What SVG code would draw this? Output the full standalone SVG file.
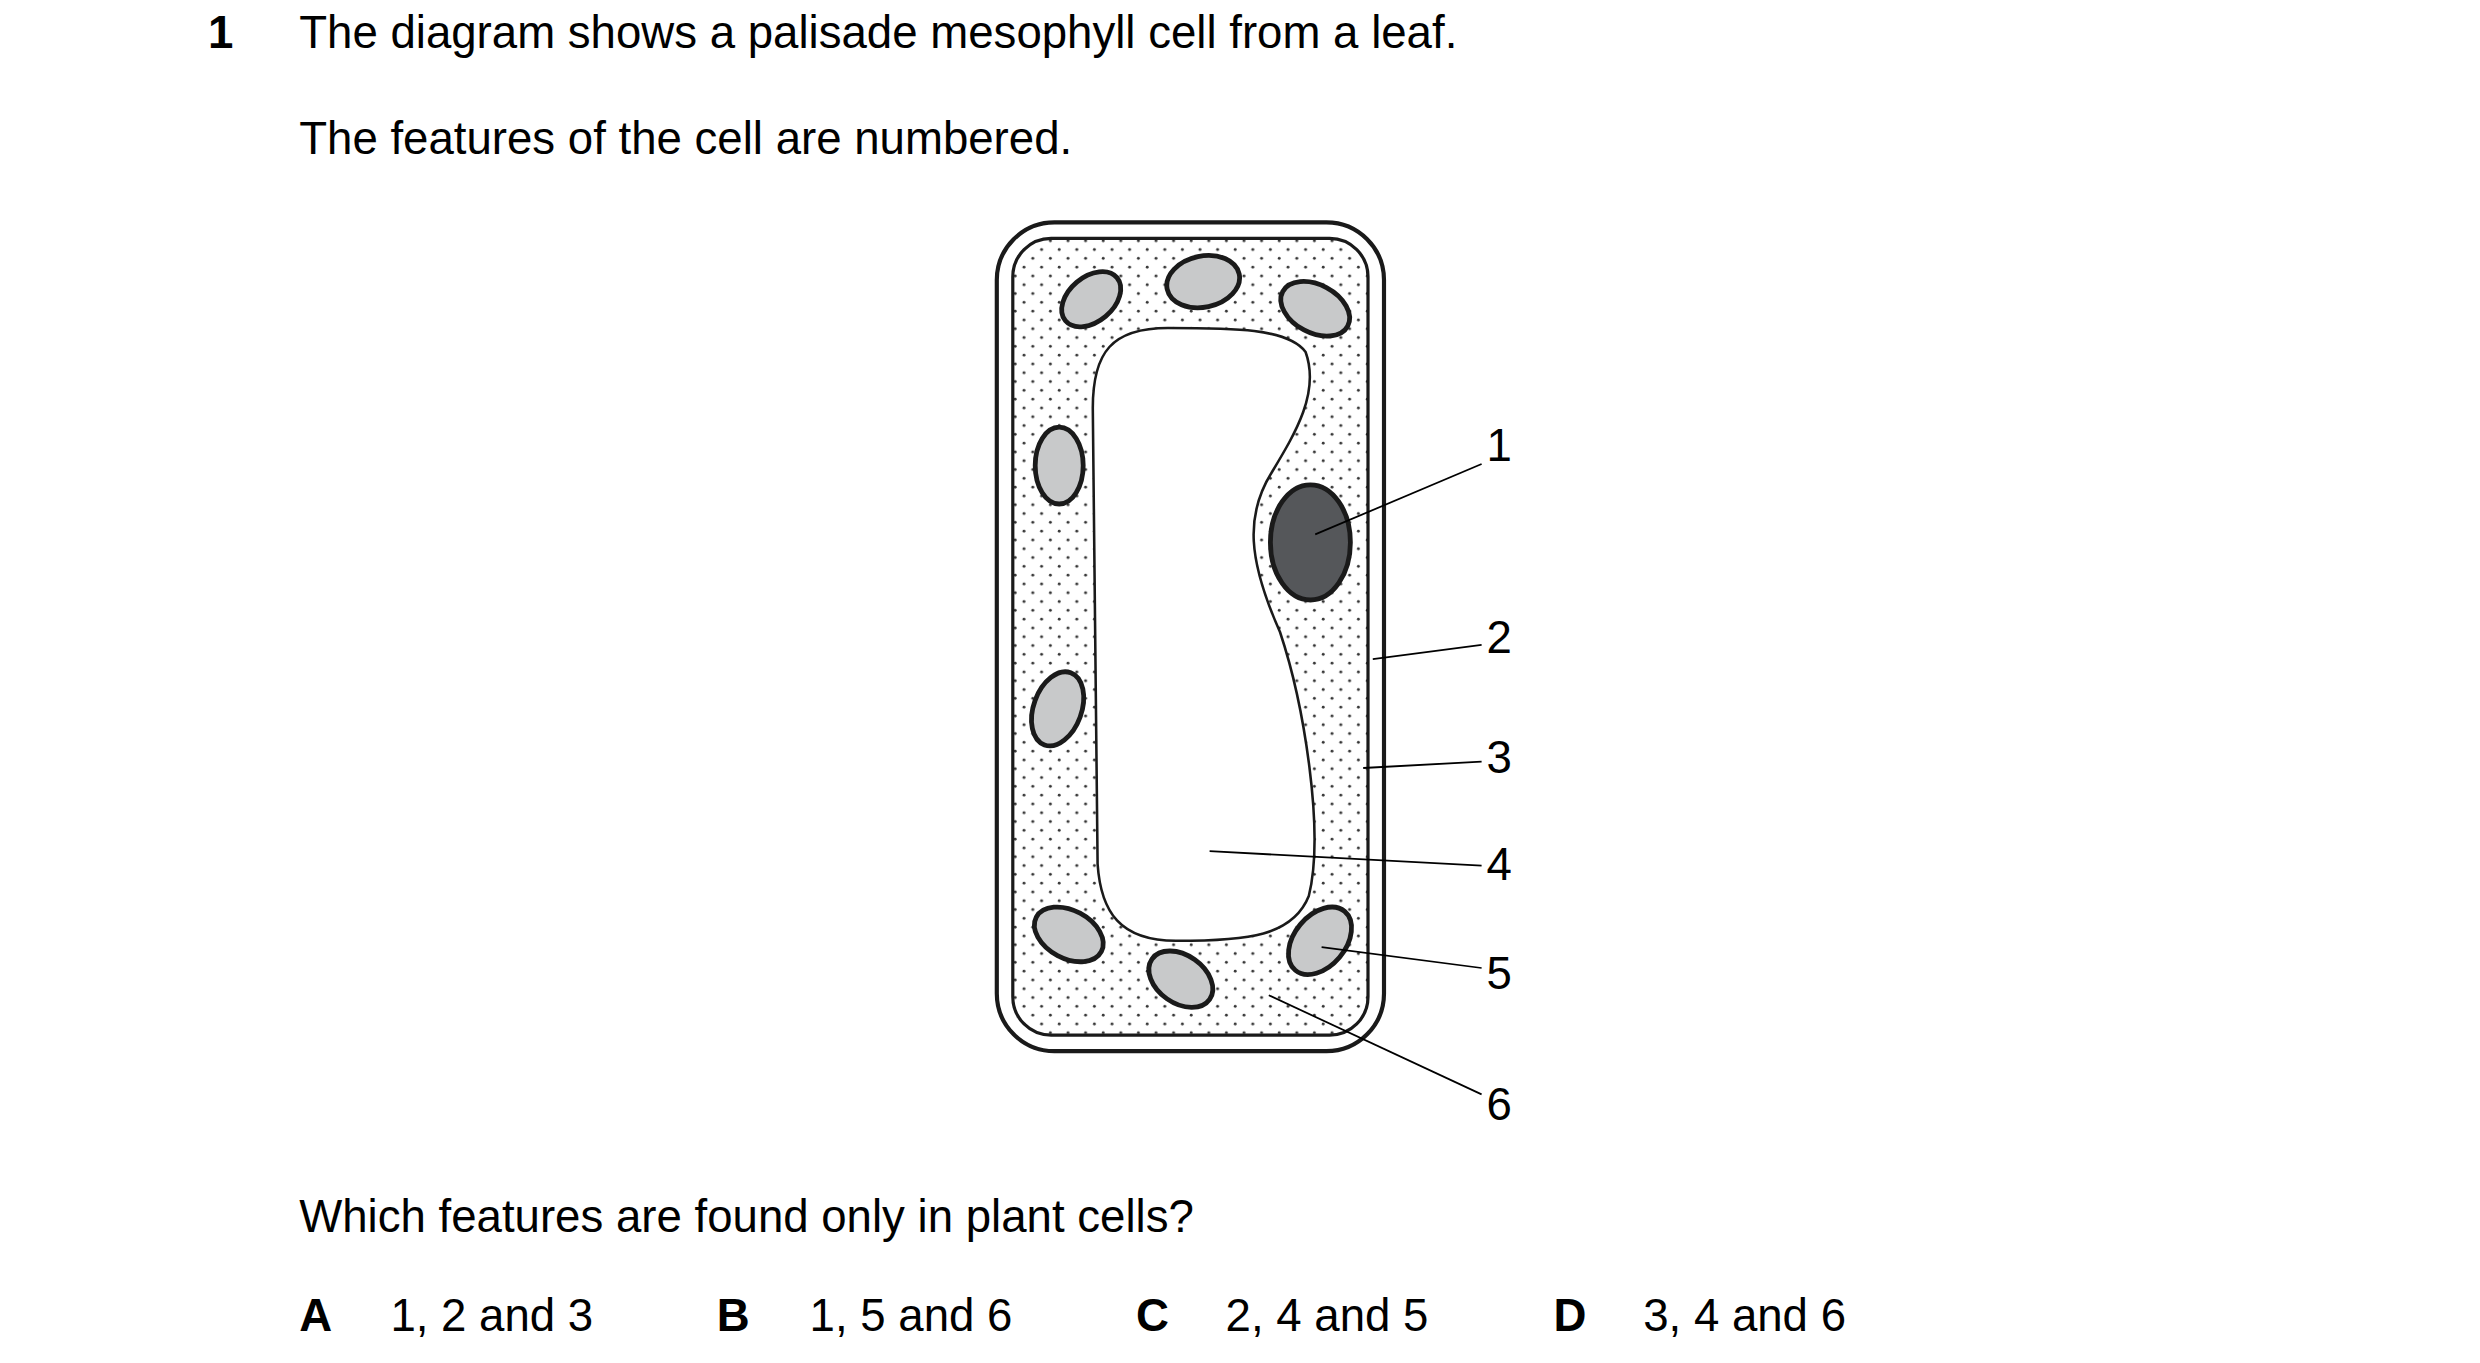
<svg xmlns="http://www.w3.org/2000/svg" width="2480" height="1363" viewBox="0 0 2480 1363">
<style>
text{font-family:"Liberation Sans",Arial,sans-serif;font-size:28.5px;fill:#000}
.b{font-weight:bold}
.chl{fill:#c8c9ca;stroke:#1a1a1a;stroke-width:3}
.ld{stroke:#000;stroke-width:1.1;fill:none}
</style>
<defs>
<pattern id="dots" width="11" height="11" patternUnits="userSpaceOnUse">
<circle cx="2" cy="2" r="0.9" fill="#333"/><circle cx="7.5" cy="7.5" r="0.9" fill="#333"/>
</pattern>
</defs>
<rect width="2480" height="1363" fill="#fff"/>
<g transform="scale(1.6)">
<g id="text">
<text x="130" y="30" class="b">1</text>
<text x="187" y="30">The diagram shows a palisade mesophyll cell from a leaf.</text>
<text x="187" y="96">The features of the cell are numbered.</text>
<text x="187" y="770">Which features are found only in plant cells?</text>
<text x="187" y="832" class="b">A</text><text x="244" y="832">1, 2 and 3</text>
<text x="448" y="832" class="b">B</text><text x="506" y="832">1, 5 and 6</text>
<text x="710" y="832" class="b">C</text><text x="766" y="832">2, 4 and 5</text>
<text x="971" y="832" class="b">D</text><text x="1027" y="832">3, 4 and 6</text>
</g>
<g id="wall"><rect x="623" y="139" width="242" height="518" rx="36" fill="#fff" stroke="#1a1a1a" stroke-width="2.6"/></g>
<g id="membrane"><rect x="633" y="149" width="222" height="498" rx="24" fill="url(#dots)" stroke="#1a1a1a" stroke-width="2"/></g>
<g id="vacuole"><path d="M683,255 C683,220 695,205 730,205 C770,205 805,205 816,220 C825,245 810,270 795,295 C778,322 780,350 800,395 C815,440 828,520 818,560 C808,585 780,588 735,588 C700,588 688,570 686,540 Z" fill="#fff" stroke="#1a1a1a" stroke-width="1.6"/></g>
<g id="nucleus"><ellipse cx="819" cy="339" rx="25" ry="36" fill="#55575a" stroke="#1a1a1a" stroke-width="3"/></g>
<g id="chloroplasts">
<ellipse class="chl" cx="682" cy="187" rx="21" ry="14" transform="rotate(-40 682 187)"/>
<ellipse class="chl" cx="752" cy="176" rx="23" ry="16" transform="rotate(-12 752 176)"/>
<ellipse class="chl" cx="822" cy="193" rx="23" ry="15" transform="rotate(28 822 193)"/>
<ellipse class="chl" cx="662" cy="291" rx="15" ry="24"/>
<ellipse class="chl" cx="661" cy="443" rx="15" ry="24" transform="rotate(20 661 443)"/>
<ellipse class="chl" cx="668" cy="584" rx="23" ry="15" transform="rotate(28 668 584)"/>
<ellipse class="chl" cx="738" cy="612" rx="22" ry="15" transform="rotate(35 738 612)"/>
<ellipse class="chl" cx="825" cy="588" rx="16" ry="24" transform="rotate(40 825 588)"/>
</g>
<g id="connectors">
<line class="ld" x1="822" y1="334" x2="926" y2="290"/>
<line class="ld" x1="858" y1="412" x2="926" y2="403"/>
<line class="ld" x1="852" y1="480" x2="926" y2="476"/>
<line class="ld" x1="756" y1="532" x2="926" y2="541"/>
<line class="ld" x1="826" y1="592" x2="926" y2="605"/>
<line class="ld" x1="793" y1="622" x2="926" y2="684"/>
</g>
<g id="labels">
<text x="929" y="288">1</text><text x="929" y="408">2</text><text x="929" y="483">3</text>
<text x="929" y="550">4</text><text x="929" y="618">5</text><text x="929" y="700">6</text>
</g>
</g>
</svg>
